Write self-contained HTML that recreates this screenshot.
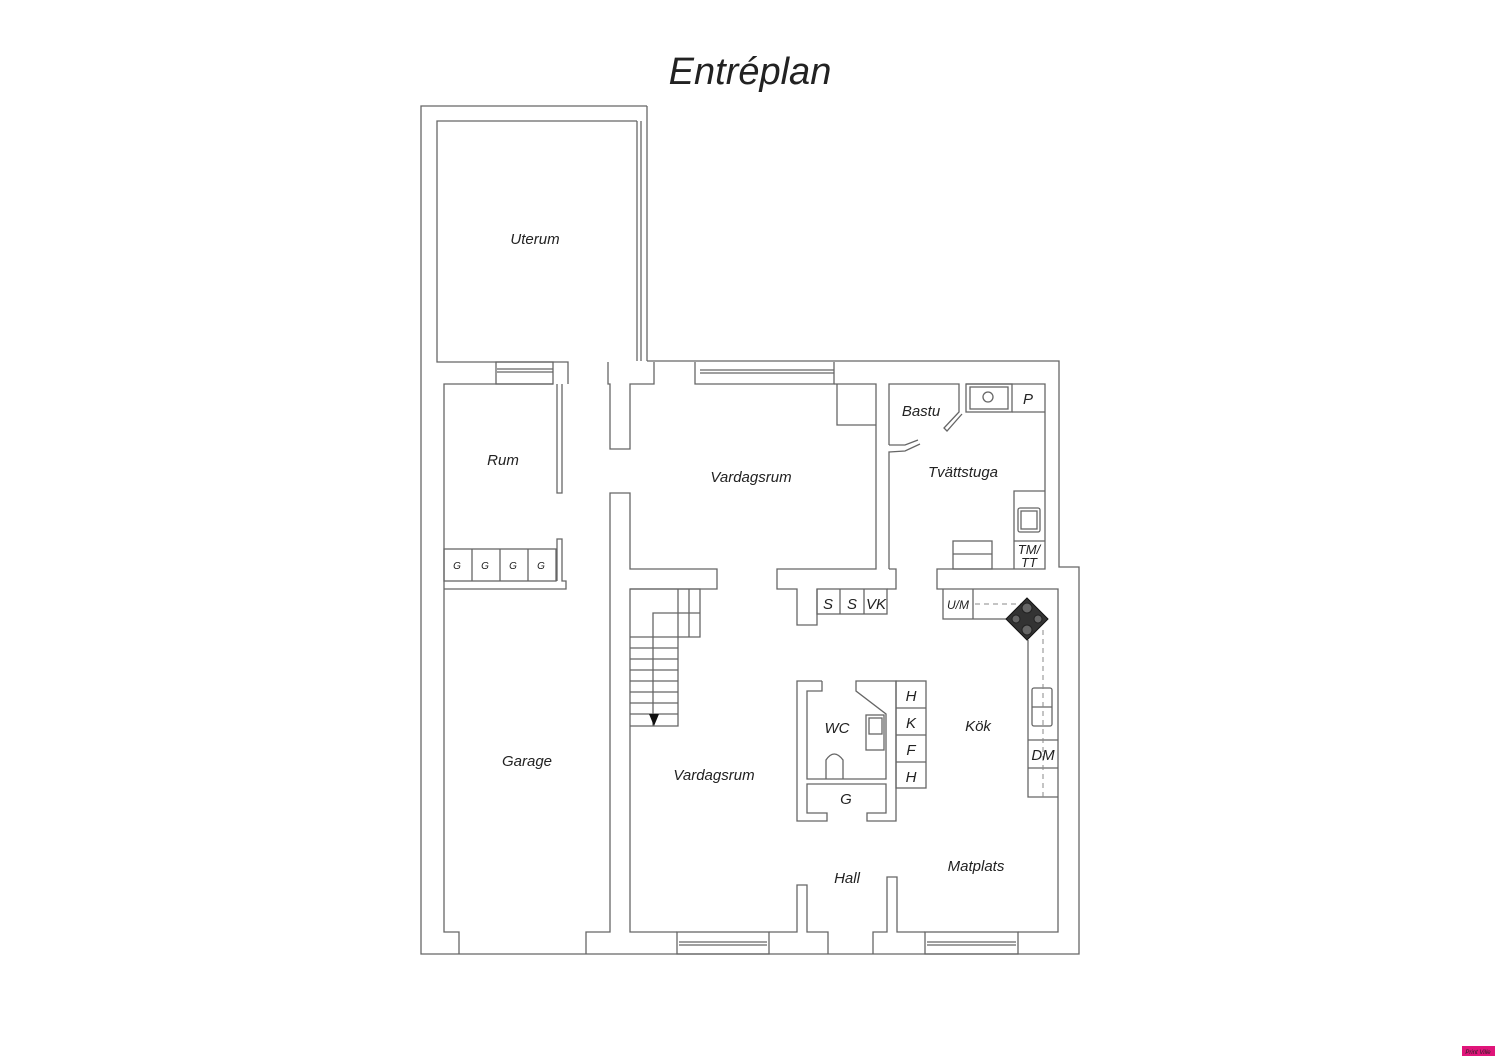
<!DOCTYPE html>
<html><head><meta charset="utf-8"><style>
html,body{margin:0;padding:0;background:#fff;}
svg{display:block}
text{font-family:"Liberation Sans",sans-serif;font-style:italic;fill:#222;}
</style></head><body>
<svg width="1500" height="1060" viewBox="0 0 1500 1060" xmlns="http://www.w3.org/2000/svg">
<rect width="1500" height="1060" fill="#fff"/>
<text x="750" y="84" font-size="38" text-anchor="middle" fill="#111">Entréplan</text>
<g fill="none" stroke="#666" stroke-width="1.3">
<!-- outer -->
<polyline points="647,106 421,106 421,954 1079,954 1079,567 1059,567 1059,361 647,361"/>
<line x1="647" y1="106" x2="647" y2="361"/>
<line x1="641" y1="121" x2="641" y2="361"/>
<line x1="637" y1="121" x2="637" y2="361"/>
<!-- uterum -->
<polyline points="637,121 437,121 437,362 568,362 568,384"/>
<!-- rum window -->
<rect x="496" y="362" width="57" height="22"/>
<line x1="497" y1="369" x2="553" y2="369"/><line x1="497" y1="372" x2="553" y2="372"/>
<!-- rum -->
<polyline points="553,384 444,384 444,932 459,932 459,954"/>
<polyline points="557,384 557,493 562,493 562,384"/>
<polyline points="557,581 557,539 562,539 562,581 566,581 566,589 444,589"/>
<rect x="444" y="549" width="112" height="32"/>
<line x1="472" y1="549" x2="472" y2="581"/><line x1="500" y1="549" x2="500" y2="581"/><line x1="528" y1="549" x2="528" y2="581"/>
<!-- garage right -->
<polyline points="586,954 586,932 610,932 610,493 630,493 630,569 717,569 717,589 630,589 630,932 677,932"/>
<polyline points="608,362 608,384 610,384 610,449 630,449 630,384 654,384 654,362"/>
<!-- window upper living -->
<polyline points="695,362 695,384 834,384 834,362"/>
<line x1="700" y1="370" x2="834" y2="370"/><line x1="700" y1="373" x2="834" y2="373"/>
<polyline points="834,384 876,384 876,569 777,569 777,589 797,589 797,625 817,625 817,589"/>
<polyline points="837,384 837,425 876,425"/>
<rect x="817" y="589" width="70" height="25"/>
<line x1="840" y1="589" x2="840" y2="614"/><line x1="864" y1="589" x2="864" y2="614"/>
<polyline points="889,569 896,569 896,589 887,589"/>
<!-- tvattstuga -->
<polyline points="889,569 889,452 905,451 920,444"/>
<polyline points="889,445 905,445 918,440"/>
<polyline points="889,445 889,384 959,384 959,412 944,428 947,431 962,414"/>
<polyline points="966,384 1045,384 1045,569 937,569 937,589 943,589"/>
<rect x="966" y="384" width="46" height="28"/>
<rect x="970" y="387" width="38" height="22"/>
<circle cx="988" cy="397" r="5"/>
<line x1="1012" y1="412" x2="1045" y2="412"/>
<polyline points="1045,491 1014,491 1014,569"/>
<rect x="1018" y="508" width="22" height="24" rx="2"/>
<rect x="1021" y="511" width="16" height="18"/>
<line x1="1014" y1="541" x2="1045" y2="541"/>
<rect x="953" y="541" width="39" height="28"/>
<line x1="953" y1="554" x2="992" y2="554"/>
<!-- kitchen -->
<polyline points="943,589 1058,589 1058,932 1018,932"/>
<polyline points="943,589 943,619 1007,619"/>
<line x1="973" y1="589" x2="973" y2="619"/>
<polyline points="1028,640 1028,797 1058,797"/>
<rect x="1032" y="688" width="20" height="38" rx="2"/>
<line x1="1032" y1="707" x2="1052" y2="707"/>
<line x1="1028" y1="740" x2="1058" y2="740"/><line x1="1028" y1="768" x2="1058" y2="768"/>
<!-- bottom -->
<rect x="677" y="932" width="92" height="22"/>
<line x1="679" y1="942" x2="767" y2="942"/><line x1="679" y1="945" x2="767" y2="945"/>
<polyline points="769,932 797,932 797,885 807,885 807,932 828,932 828,954"/>
<polyline points="873,954 873,932 887,932 887,877 897,877 897,932 925,932"/>
<rect x="925" y="932" width="93" height="22"/>
<line x1="927" y1="942" x2="1016" y2="942"/><line x1="927" y1="945" x2="1016" y2="945"/>
<!-- WC -->
<polyline points="822,681 797,681 797,821 827,821 827,813 807,813 807,784 886,784 886,813 867,813 867,821 896,821 896,681 856,681 856,691 886,714 886,779 807,779 807,691 822,691 822,681"/>
<rect x="896" y="681" width="30" height="107"/>
<line x1="896" y1="708" x2="926" y2="708"/><line x1="896" y1="735" x2="926" y2="735"/><line x1="896" y1="762" x2="926" y2="762"/>
<rect x="866" y="715" width="18" height="35"/>
<rect x="869" y="718" width="13" height="16"/>
<path d="M826,779 L826,760 Q834,748 843,760 L843,779"/>
<!-- stairs -->
<polyline points="630,589 700,589 700,637 678,637 678,726 630,726"/>
<line x1="678" y1="589" x2="678" y2="637"/><line x1="689" y1="589" x2="689" y2="637"/>
<polyline points="700,613 653,613 653,726"/>
<line x1="630" y1="637" x2="678" y2="637"/>
<line x1="630" y1="648" x2="678" y2="648"/><line x1="630" y1="659" x2="678" y2="659"/>
<line x1="630" y1="670" x2="678" y2="670"/><line x1="630" y1="681" x2="678" y2="681"/>
<line x1="630" y1="692" x2="678" y2="692"/><line x1="630" y1="703" x2="678" y2="703"/>
<line x1="630" y1="714" x2="678" y2="714"/>
</g>
<g fill="none" stroke="#888" stroke-width="1" stroke-dasharray="5,4">
<line x1="975" y1="604" x2="1022" y2="604"/>
<line x1="1043" y1="630" x2="1043" y2="797"/>
</g>
<polygon points="1027,598 1048,619 1027,640 1006,619" fill="#333" stroke="#111"/>
<g fill="#666" stroke="#222"><circle cx="1027" cy="608" r="5"/><circle cx="1027" cy="630" r="5"/><circle cx="1016" cy="619" r="4"/><circle cx="1038" cy="619" r="4"/></g>
<polygon points="649,714 659,714 654,726" fill="#111"/>
<g font-size="15">
<text x="535" y="244" text-anchor="middle">Uterum</text>
<text x="503" y="465" text-anchor="middle">Rum</text>
<text x="751" y="482" text-anchor="middle">Vardagsrum</text>
<text x="921" y="416" text-anchor="middle">Bastu</text>
<text x="963" y="477" text-anchor="middle">Tvättstuga</text>
<text x="1028" y="404" text-anchor="middle">P</text>
<text x="1029" y="554" text-anchor="middle" font-size="13">TM/</text>
<text x="1029" y="567" text-anchor="middle" font-size="13">TT</text>
<text x="828" y="609" text-anchor="middle">S</text>
<text x="852" y="609" text-anchor="middle">S</text>
<text x="876" y="609" text-anchor="middle">VK</text>
<text x="958" y="609" text-anchor="middle" font-size="12">U/M</text>
<text x="527" y="766" text-anchor="middle">Garage</text>
<text x="714" y="780" text-anchor="middle">Vardagsrum</text>
<text x="837" y="733" text-anchor="middle">WC</text>
<text x="846" y="804" text-anchor="middle">G</text>
<text x="911" y="701" text-anchor="middle">H</text>
<text x="911" y="728" text-anchor="middle">K</text>
<text x="911" y="755" text-anchor="middle">F</text>
<text x="911" y="782" text-anchor="middle">H</text>
<text x="978" y="731" text-anchor="middle">Kök</text>
<text x="1043" y="760" text-anchor="middle">DM</text>
<text x="976" y="871" text-anchor="middle">Matplats</text>
<text x="847" y="883" text-anchor="middle">Hall</text>
</g>
<g font-size="10" font-style="normal" fill="#333">
<text x="457" y="569" text-anchor="middle">G</text><text x="485" y="569" text-anchor="middle">G</text>
<text x="513" y="569" text-anchor="middle">G</text><text x="541" y="569" text-anchor="middle">G</text>
</g>
<rect x="1462" y="1046" width="33" height="10" fill="#e0157a"/>
<text x="1478" y="1054" font-size="6" text-anchor="middle" fill="#fff" font-style="normal">Print Ville</text>
</svg>
</body></html>
